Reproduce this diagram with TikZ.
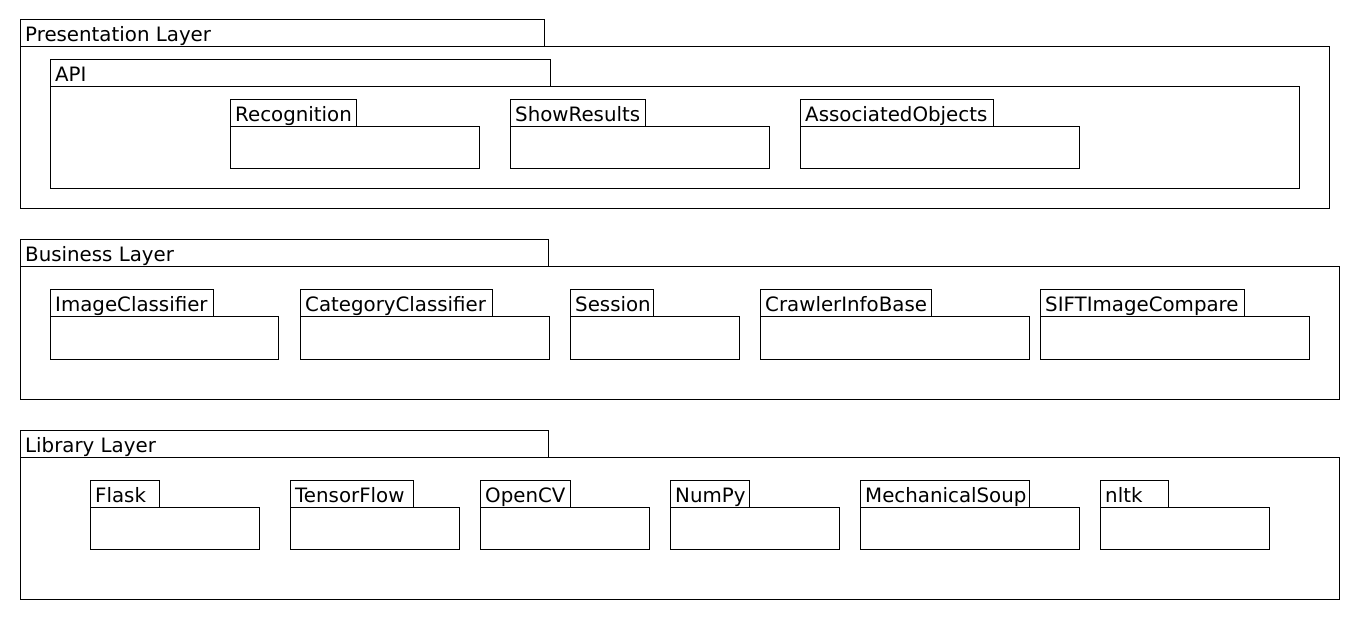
\documentclass[tikz,border=0pt]{standalone}
\usepackage{fontspec}
\setmainfont{DejaVu Sans}
\begin{document}
\begin{tikzpicture}[x=1pt,y=-1pt,
  pkgline/.style={draw=black,line width=1pt},
  pkglabel/.style={anchor=base west,inner sep=0pt,font=\fontsize{19.8pt}{22pt}\selectfont}]
\useasboundingbox (0,0) rectangle (1360,620);
% #1 name, #2 label, #3 left x, #4 tab right x, #5 body right x, #6 tab top y, #7 body bottom y
\newcommand\umlpkg[7]{%
  \draw[pkgline] (#3,#6) rectangle (#4,#6+27);
  \draw[pkgline] (#3,#6+27) rectangle (#5,#7);
  \node[pkglabel] (#1) at (#3+5,#6+22) {#2};
}
% Presentation layer
\umlpkg{pres}{Presentation Layer}{20}{544}{1329}{20}{209}
\umlpkg{api}{API}{50}{550}{1299}{60}{189}
\umlpkg{recog}{Recognition}{230}{356}{479}{100}{169}
\umlpkg{show}{ShowResults}{510}{645}{769}{100}{169}
\umlpkg{assoc}{AssociatedObjects}{800}{993}{1079}{100}{169}
% Business layer
\umlpkg{bus}{Business Layer}{20}{548}{1339}{240}{399}
\umlpkg{imgc}{ImageClassifier}{50}{213}{278}{290}{359}
\umlpkg{catc}{CategoryClassifier}{300}{492}{549}{290}{359}
\umlpkg{sess}{Session}{570}{653}{739}{290}{359}
\umlpkg{crawl}{CrawlerInfoBase}{760}{931}{1029}{290}{359}
\umlpkg{sift}{SIFTImageCompare}{1040}{1244}{1309}{290}{359}
% Library layer
\umlpkg{lib}{Library Layer}{20}{548}{1339}{430}{599}
\umlpkg{flask}{Flask}{90}{159}{259}{480}{549}
\umlpkg{tf}{TensorFlow}{290}{413}{459}{480}{549}
\umlpkg{cv}{OpenCV}{480}{570}{649}{480}{549}
\umlpkg{np}{NumPy}{670}{749}{839}{480}{549}
\umlpkg{soup}{MechanicalSoup}{860}{1029}{1079}{480}{549}
\umlpkg{nltk}{nltk}{1100}{1168}{1269}{480}{549}
\end{tikzpicture}
\end{document}
